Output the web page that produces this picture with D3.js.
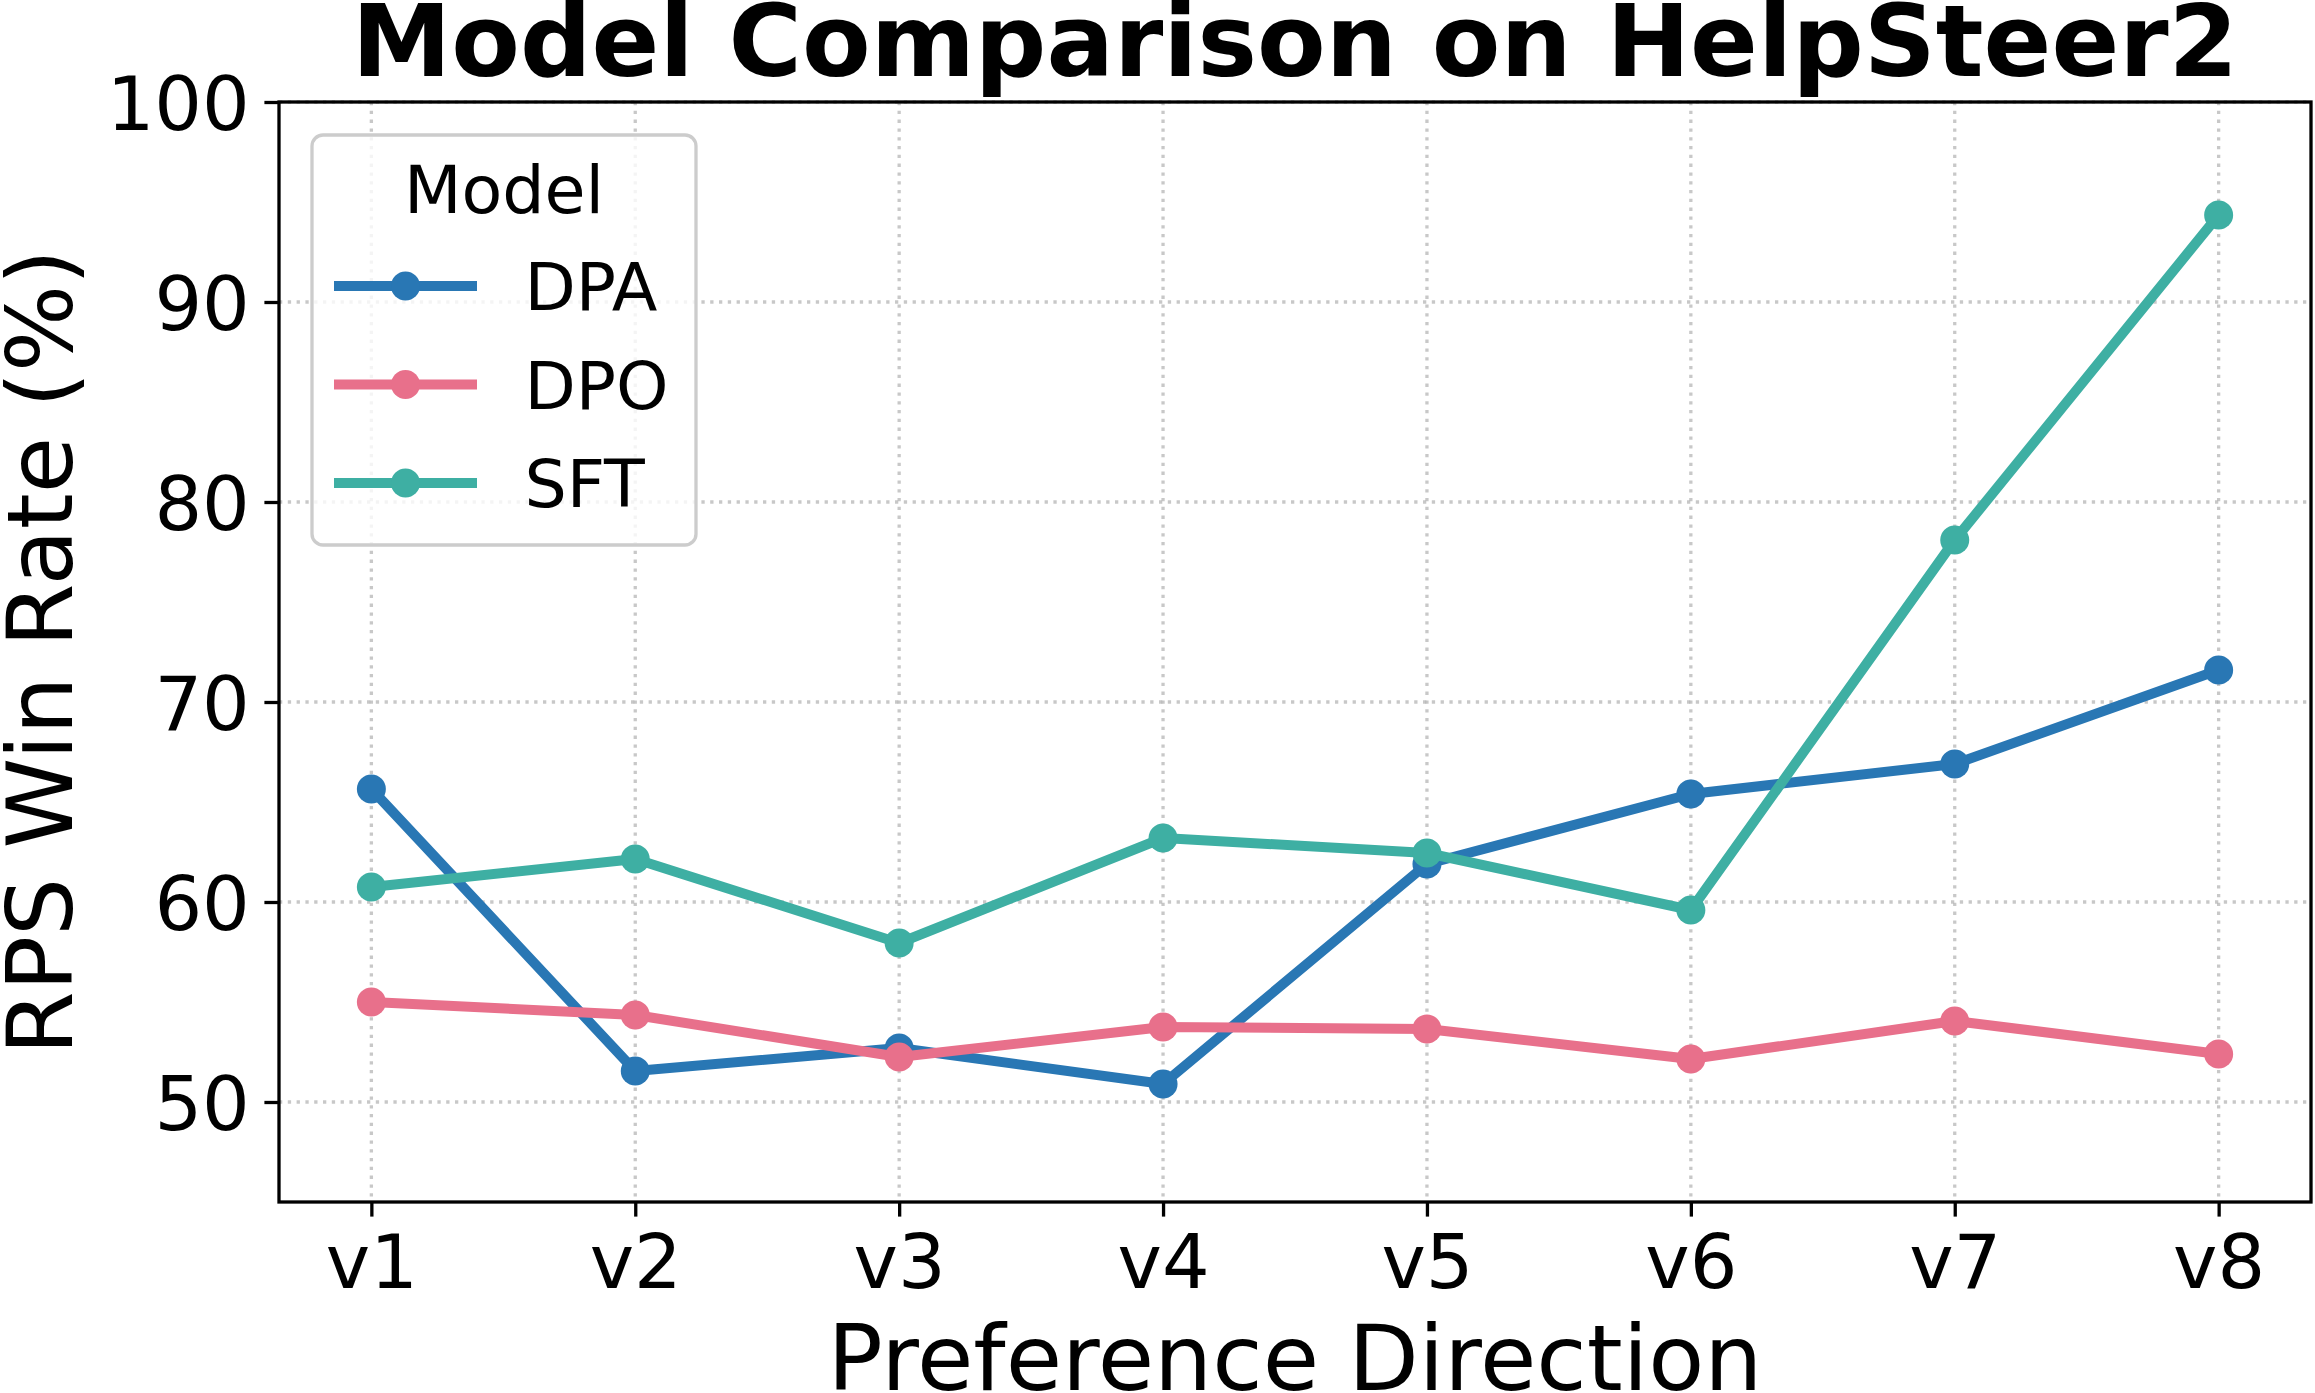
<!DOCTYPE html>
<html lang="en">
<head>
    <meta charset="UTF-8">
    <title>Model Comparison on HelpSteer2</title>
    <script src="https://d3js.org/d3.v7.min.js" charset="utf-8"></script>
    <style>
        body { margin: 0; background: white; }
        text { font-family: "DejaVu Sans", sans-serif; fill: black; }
    </style>
</head>
<body>
<div id="chart"></div>
<script>

    // values
    var directions = ["v1", "v2", "v3", "v4", "v5", "v6", "v7", "v8"];
    var dpaValues = [65.65, 51.55, 52.7, 50.9, 61.9, 65.4, 66.9, 71.6];
    var dpoValues = [55.0, 54.35, 52.25, 53.75, 53.65, 52.15, 54.05, 52.4];
    var sftValues = [60.75, 62.15, 57.95, 63.2, 62.45, 59.6, 78.1, 94.35];
    var modelNames = ["DPA", "DPO", "SFT"];
    var modelColors = ["#2977b4", "#e8708b", "#3eafa3"];
    var yTicks = [50, 60, 70, 80, 90, 100];

    var seriesList = [dpaValues, dpoValues, sftValues];

    var width = 2315, height = 1393;
    // plot box (window.top is read-only, so no plain "top" here)
    var plotLeft = 279, plotRight = 2311, plotTop = 102, plotBottom = 1202;

    var svg = d3.select("#chart").append("svg")
        .attr("width", width)
        .attr("height", height);

    var x = d3.scaleLinear().domain([-0.35, directions.length - 1 + 0.35]).range([plotLeft, plotRight]);
    var y = d3.scaleLinear().domain([45, 100]).range([plotBottom, plotTop]);

    // grid
    var grid = svg.append("g")
        .attr("stroke", "#b0b0b0")
        .attr("stroke-opacity", 0.7)
        .attr("stroke-width", 3.3)
        .attr("stroke-dasharray", "3.3,5.5");
    grid.selectAll("line.gx").data(directions).enter().append("line")
        .attr("class", "gx")
        .attr("x1", function (d, i) { return x(i); })
        .attr("x2", function (d, i) { return x(i); })
        .attr("y1", plotTop).attr("y2", plotBottom);
    grid.selectAll("line.gy").data(yTicks).enter().append("line")
        .attr("class", "gy")
        .attr("x1", plotLeft).attr("x2", plotRight)
        .attr("y1", function (d) { return y(d); })
        .attr("y2", function (d) { return y(d); });

    // axes
    var xAxis = d3.axisBottom(x)
        .tickValues(d3.range(directions.length))
        .tickFormat(function (i) { return directions[i]; })
        .tickSizeInner(14.6).tickSizeOuter(0).tickPadding(14.6);
    var yAxis = d3.axisLeft(y)
        .tickValues(yTicks)
        .tickSizeInner(14.6).tickSizeOuter(0).tickPadding(14.6);

    var gx = svg.append("g").attr("transform", "translate(0," + plotBottom + ")").call(xAxis);
    var gy = svg.append("g").attr("transform", "translate(" + plotLeft + ",0)").call(yAxis);
    [gx, gy].forEach(function (g) {
        g.select(".domain").remove();
        g.selectAll(".tick line").attr("stroke", "black").attr("stroke-width", 3.3);
        g.selectAll(".tick text")
            .style("font-family", "DejaVu Sans")
            .style("font-size", "75px")
            .attr("fill", "black");
    });
    gx.selectAll(".tick text").attr("dy", "0.76em");
    gy.selectAll(".tick text").attr("dy", "0.36em");

    // lines and markers
    var line = d3.line()
        .x(function (d, i) { return x(i); })
        .y(function (d) { return y(d); });

    seriesList.forEach(function (values, k) {
        var g = svg.append("g");
        g.append("path")
            .datum(values)
            .attr("d", line)
            .attr("fill", "none")
            .attr("stroke", modelColors[k])
            .attr("stroke-width", 10)
            .attr("stroke-linejoin", "round")
            .attr("stroke-linecap", "butt");
        g.selectAll("circle").data(values).enter().append("circle")
            .attr("cx", function (d, i) { return x(i); })
            .attr("cy", function (d) { return y(d); })
            .attr("r", 14.5)
            .attr("fill", modelColors[k]);
    });

    // frame
    svg.append("rect")
        .attr("x", plotLeft).attr("y", plotTop)
        .attr("width", plotRight - plotLeft).attr("height", plotBottom - plotTop)
        .attr("fill", "none")
        .attr("stroke", "black")
        .attr("stroke-width", 3.3);

    // legend
    var legend = svg.append("g");
    legend.append("rect")
        .attr("x", 312).attr("y", 135)
        .attr("width", 384).attr("height", 410)
        .attr("rx", 11).attr("ry", 11)
        .attr("fill", "white").attr("fill-opacity", 0.8)
        .attr("stroke", "#cccccc").attr("stroke-width", 3.3);
    legend.append("text")
        .attr("x", 504).attr("y", 213)
        .attr("text-anchor", "middle")
        .style("font-size", "66.7px")
        .text("Model");
    modelNames.forEach(function (name, k) {
        var ry = 286 + k * 98.5;
        legend.append("line")
            .attr("x1", 334).attr("x2", 477)
            .attr("y1", ry).attr("y2", ry)
            .attr("stroke", modelColors[k])
            .attr("stroke-width", 10);
        legend.append("circle")
            .attr("cx", 405.5).attr("cy", ry).attr("r", 14.5)
            .attr("fill", modelColors[k]);
        legend.append("text")
            .attr("x", 524.5).attr("y", ry + 24.3)
            .style("font-size", "66.7px")
            .text(name);
    });

    // title and axis labels
    svg.append("text")
        .attr("x", (plotLeft + plotRight) / 2).attr("y", 76)
        .attr("text-anchor", "middle")
        .style("font-size", "100px")
        .style("font-weight", "bold")
        .text("Model Comparison on HelpSteer2");

    svg.append("text")
        .attr("x", (plotLeft + plotRight) / 2).attr("y", 1390)
        .attr("text-anchor", "middle")
        .style("font-size", "91.7px")
        .text("Preference Direction");

    svg.append("text")
        .attr("transform", "translate(72," + (plotTop + plotBottom) / 2 + ") rotate(-90)")
        .attr("text-anchor", "middle")
        .style("font-size", "91.7px")
        .text("RPS Win Rate (%)");

</script>
</body>
</html>
